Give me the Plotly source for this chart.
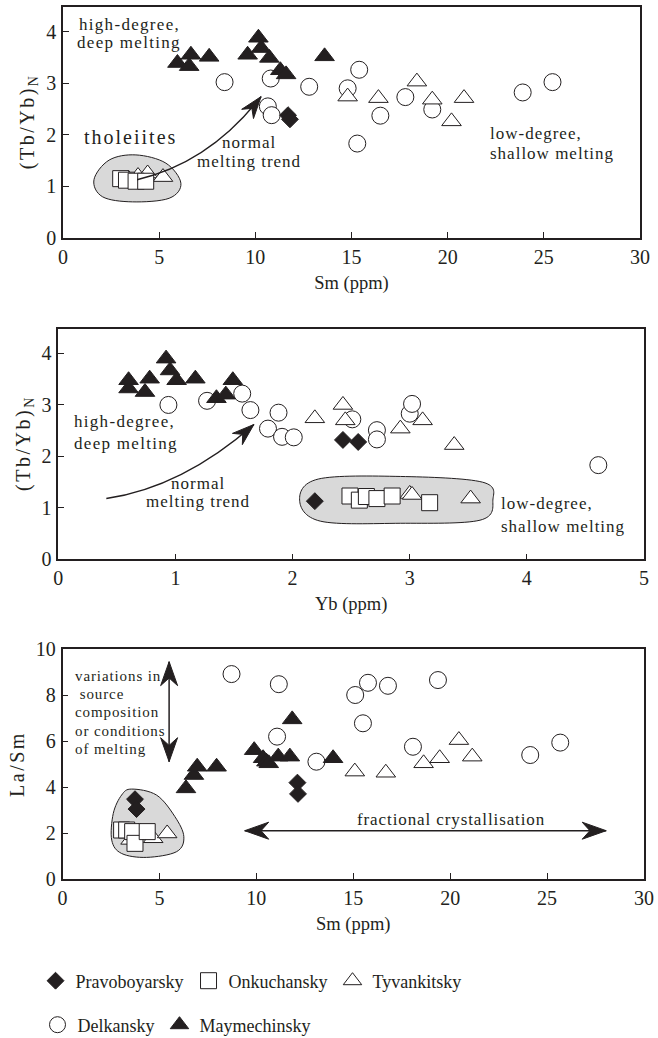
import math
import plotly.graph_objects as go

# ---------------- data ----------------
groups = ["Pravoboyarsky", "Onkuchansky", "Tyvankitsky", "Delkansky", "Maymechinsky"]

# Panel A: Sm (ppm) vs (Tb/Yb)N
a_prav_sm = [11.7, 11.8]
a_prav_tbyb = [2.38, 2.30]
a_onk_sm = [3.0, 3.3, 3.8, 4.3]
a_onk_tbyb = [1.15, 1.12, 1.10, 1.10]
a_tyv_sm = [3.4, 3.9, 4.4, 5.2, 14.8, 16.4, 18.4, 19.2, 20.2, 20.85]
a_tyv_tbyb = [1.15, 1.20, 1.25, 1.18, 2.74, 2.71, 3.03, 2.68, 2.26, 2.71]
a_del_sm = [8.4, 10.8, 10.65, 10.85, 12.8, 14.8, 15.4, 15.3, 16.5, 17.8, 19.2, 23.9, 25.45]
a_del_tbyb = [3.02, 3.09, 2.55, 2.38, 2.93, 2.90, 3.26, 1.83, 2.37, 2.73, 2.49, 2.82, 3.02]
a_may_sm = [5.95, 6.65, 6.56, 7.6, 9.6, 10.16, 10.3, 10.73, 11.3, 11.6, 13.6]
a_may_tbyb = [3.39, 3.55, 3.33, 3.51, 3.55, 3.88, 3.68, 3.49, 3.25, 3.17, 3.52]

# Panel B: Yb (ppm) vs (Tb/Yb)N
b_prav_yb = [2.43, 2.56, 2.19]
b_prav_tbyb = [2.32, 2.28, 1.13]
b_onk_yb = [2.49, 2.57, 2.63, 2.72, 2.85, 3.17]
b_onk_tbyb = [1.23, 1.15, 1.22, 1.18, 1.23, 1.10]
b_tyv_yb = [2.53, 2.77, 3.0, 3.02, 3.52, 2.19, 2.43, 2.45, 2.92, 3.11, 3.38]
b_tyv_tbyb = [1.22, 1.18, 1.27, 1.25, 1.18, 2.74, 3.0, 2.7, 2.54, 2.7, 2.22]
b_del_yb = [0.94, 1.27, 1.57, 1.64, 1.79, 1.88, 1.91, 2.01, 2.51, 2.72, 2.72, 3.0, 3.02, 4.61]
b_del_tbyb = [3.0, 3.08, 3.22, 2.9, 2.54, 2.85, 2.38, 2.37, 2.72, 2.51, 2.33, 2.83, 3.02, 1.83]
b_may_yb = [0.6, 0.6, 0.74, 0.78, 0.92, 0.954, 1.01, 1.17, 1.35, 1.43, 1.49]
b_may_tbyb = [3.32, 3.48, 3.25, 3.51, 3.90, 3.67, 3.48, 3.51, 3.13, 3.2, 3.48]

# Panel C: Sm (ppm) vs La/Sm
c_prav_sm = [3.74, 3.82, 12.12, 12.15]
c_prav_lasm = [3.47, 3.04, 4.19, 3.70]
c_onk_sm = [3.05, 3.31, 3.62, 3.74, 4.37]
c_onk_lasm = [2.13, 2.13, 2.06, 1.55, 2.06]
c_tyv_sm = [3.51, 3.91, 4.68, 5.4, 15.08, 16.68, 18.63, 19.46, 20.45, 21.14]
c_tyv_lasm = [1.70, 2.06, 1.77, 1.98, 4.67, 4.62, 5.03, 5.25, 6.04, 5.32]
c_del_sm = [8.72, 11.16, 11.07, 13.1, 15.1, 15.76, 16.79, 15.5, 19.37, 18.08, 24.13, 25.68]
c_del_lasm = [8.91, 8.47, 6.19, 5.1, 8.0, 8.53, 8.4, 6.77, 8.65, 5.75, 5.39, 5.93]
c_may_sm = [6.37, 6.78, 6.95, 7.95, 9.89, 10.35, 10.52, 10.64, 11.13, 11.73, 11.85, 13.96]
c_may_lasm = [3.94, 4.52, 4.88, 4.88, 5.6, 5.25, 5.1, 5.03, 5.32, 5.32, 6.94, 5.25]

x_ticks_sm = [0, 5, 10, 15, 20, 25, 30]
x_ticks_yb = [0, 1, 2, 3, 4, 5]
y_ticks_tbyb = [0, 1, 2, 3, 4]
y_ticks_lasm = [0, 2, 4, 6, 8, 10]

# ---------------- style ----------------
INK = "#231f20"
FONT = "Liberation Serif, DejaVu Serif, Times New Roman, serif"
W, H = 658, 1038

styles = {
    "Pravoboyarsky": dict(symbol="diamond", size=13, color=INK),
    "Onkuchansky": dict(symbol="square", size=16, color="white"),
    "Tyvankitsky": dict(symbol="triangle-up", size=17, color="white"),
    "Delkansky": dict(symbol="circle", size=17, color="white"),
    "Maymechinsky": dict(symbol="triangle-up", size=17, color=INK),
}

panels = [
    ("x", "y", {"Pravoboyarsky": (a_prav_sm, a_prav_tbyb), "Onkuchansky": (a_onk_sm, a_onk_tbyb),
                "Tyvankitsky": (a_tyv_sm, a_tyv_tbyb), "Delkansky": (a_del_sm, a_del_tbyb),
                "Maymechinsky": (a_may_sm, a_may_tbyb)}),
    ("x2", "y2", {"Pravoboyarsky": (b_prav_yb, b_prav_tbyb), "Onkuchansky": (b_onk_yb, b_onk_tbyb),
                  "Tyvankitsky": (b_tyv_yb, b_tyv_tbyb), "Delkansky": (b_del_yb, b_del_tbyb),
                  "Maymechinsky": (b_may_yb, b_may_tbyb)}),
    ("x3", "y3", {"Pravoboyarsky": (c_prav_sm, c_prav_lasm), "Onkuchansky": (c_onk_sm, c_onk_lasm),
                  "Tyvankitsky": (c_tyv_sm, c_tyv_lasm), "Delkansky": (c_del_sm, c_del_lasm),
                  "Maymechinsky": (c_may_sm, c_may_lasm)}),
]

fig = go.Figure()
draw_order = ["Delkansky", "Tyvankitsky", "Onkuchansky", "Maymechinsky", "Pravoboyarsky"]
for pi, (xa, ya, data) in enumerate(panels):
    for g in draw_order:
        xs, ys = data[g]
        st = styles[g]
        fig.add_trace(go.Scatter(
            x=xs, y=ys, mode="markers", xaxis=xa, yaxis=ya, name=g,
            legendgroup=g, showlegend=(pi == 0),
            legend="legend" if groups.index(g) < 3 else "legend2",
            legendrank=groups.index(g) + 1,
            marker=dict(symbol=st["symbol"], size=st["size"], color=st["color"],
                        line=dict(color=INK, width=1)),
        ))

# axis domains (paper fractions) and ranges
dom = {
    "x": ([63 / W, 640 / W], [0, 30]), "y": ([1 - 238 / H, 1 - 7.3 / H], [0, 4.47]),
    "x2": ([58.3 / W, 644 / W], [0, 5]), "y2": ([1 - 559.3 / H, 1 - 329.3 / H], [0, 4.47]),
    "x3": ([62.5 / W, 644 / W], [0, 30]), "y3": ([1 - 879 / H, 1 - 649 / H], [0, 10]),
}

def px_per_unit(name):
    d, r = dom[name]
    size = (d[1] - d[0]) * (W if name.startswith("x") else H)
    return size / (r[1] - r[0])

def spaced(text, ls):
    return f'<span style="letter-spacing:{ls}px">{text}</span>'

axis_common = dict(showline=True, mirror=True, linecolor=INK, linewidth=1.5,
                   ticks="inside", ticklen=6, tickwidth=1, tickcolor=INK,
                   showgrid=False, zeroline=False, automargin=False,
                   tickfont=dict(family=FONT, size=20, color=INK))

titles = {"x": ("Sm (ppm)", 18.5), "x2": ("Yb (ppm)", 18.5), "x3": ("Sm (ppm)", 18.5),
          "y": (spaced("(Tb/Yb)", 2.5) + "<sub>N</sub>", 20),
          "y2": (spaced("(Tb/Yb)", 2.5) + "<sub>N</sub>", 20),
          "y3": (spaced("La/Sm", 2.5), 20)}
tickvals = {"x": x_ticks_sm, "x2": x_ticks_yb, "x3": x_ticks_sm,
            "y": y_ticks_tbyb, "y2": y_ticks_tbyb, "y3": y_ticks_lasm}

layout_axes = {}
for name, (d, r) in dom.items():
    key = ("xaxis" if name.startswith("x") else "yaxis") + name[1:]
    ttext, tsize = titles[name]
    ax = dict(axis_common, domain=d, range=r, tickvals=tickvals[name],
              ticktext=[str(v) for v in tickvals[name]],
              title=dict(text=ttext, font=dict(family=FONT, size=tsize, color=INK),
                         standoff=9 if name.startswith("x") else 6))
    if name.startswith("x"):
        ax["anchor"] = "y" + name[1:]
    else:
        ax["anchor"] = "x" + name[1:]
        ax["ticklabelstandoff"] = 1
    layout_axes[key] = ax

fig.update_layout(**layout_axes)

# ---------------- decoration helpers ----------------
def smooth_closed(pts):
    n = len(pts)
    d = f"M{pts[0][0]:.3f},{pts[0][1]:.3f}"
    for i in range(n):
        p0, p1, p2, p3 = pts[(i - 1) % n], pts[i], pts[(i + 1) % n], pts[(i + 2) % n]
        c1 = (p1[0] + (p2[0] - p0[0]) / 6, p1[1] + (p2[1] - p0[1]) / 6)
        c2 = (p2[0] - (p3[0] - p1[0]) / 6, p2[1] - (p3[1] - p1[1]) / 6)
        d += f" C{c1[0]:.3f},{c1[1]:.3f} {c2[0]:.3f},{c2[1]:.3f} {p2[0]:.3f},{p2[1]:.3f}"
    return d + " Z"

def head_path(angle_deg, L=22, Wd=15, notch=0.32):
    a = math.radians(angle_deg)
    ca, sa = math.cos(a), math.sin(a)
    def rot(px, py):
        return (px * ca - py * sa, px * sa + py * ca)
    pts = [rot(0, 0), rot(-L, Wd / 2), rot(-L * (1 - notch), 0), rot(-L, -Wd / 2)]
    return "M" + " L".join(f"{p[0]:.2f},{p[1]:.2f}" for p in pts) + " Z"

shapes = []
blob_style = dict(type="path", fillcolor="#d9d9d9", line=dict(color=INK, width=1), layer="below")

# tholeiite fields
blob_a = [(1.61, 1.13), (2.40, 1.51), (3.79, 1.61), (5.35, 1.45), (6.13, 1.06),
          (5.52, 0.77), (3.61, 0.70), (2.05, 0.80)]
blob_b = [(2.06, 1.15), (2.22, 1.56), (2.92, 1.61), (3.62, 1.50), (3.71, 1.15),
          (3.60, 0.76), (2.92, 0.70), (2.24, 0.74)]
blob_c = [(3.57, 3.91), (4.85, 3.65), (5.80, 2.71), (6.26, 1.84), (5.89, 1.19),
          (4.34, 0.94), (3.05, 1.11), (2.54, 1.69), (2.62, 2.85), (3.05, 3.65)]
shapes.append(dict(blob_style, xref="x", yref="y", path=smooth_closed(blob_a)))
shapes.append(dict(blob_style, xref="x2", yref="y2", path=smooth_closed(blob_b)))
shapes.append(dict(blob_style, xref="x3", yref="y3", path=smooth_closed(blob_c)))

def curved_arrow(xa, ya, p0, q, p2):
    shapes.append(dict(type="path", xref=xa, yref=ya, line=dict(color=INK, width=1.5),
                       path=f"M{p0[0]},{p0[1]} Q{q[0]},{q[1]} {p2[0]},{p2[1]}"))
    dx = (p2[0] - q[0]) * px_per_unit(xa)
    dy = (p2[1] - q[1]) * px_per_unit(ya)
    ang = math.degrees(math.atan2(dy, dx))
    shapes.append(dict(type="path", xref=xa, yref=ya, xsizemode="pixel", ysizemode="pixel",
                       xanchor=p2[0], yanchor=p2[1], fillcolor=INK,
                       line=dict(color=INK, width=1), path=head_path(ang)))

curved_arrow("x", "y", (3.85, 1.13), (7.6, 1.45), (10.3, 2.74))
curved_arrow("x2", "y2", (0.41, 1.18), (1.06, 1.40), (1.67, 2.62))

def straight_double(xa, ya, p0, p1):
    shapes.append(dict(type="line", xref=xa, yref=ya, x0=p0[0], y0=p0[1], x1=p1[0], y1=p1[1],
                       line=dict(color=INK, width=1.5)))
    dx = (p1[0] - p0[0]) * px_per_unit(xa)
    dy = (p1[1] - p0[1]) * px_per_unit(ya)
    ang = math.degrees(math.atan2(dy, dx))
    for pt, a in ((p1, ang), (p0, ang + 180)):
        shapes.append(dict(type="path", xref=xa, yref=ya, xsizemode="pixel", ysizemode="pixel",
                           xanchor=pt[0], yanchor=pt[1], fillcolor=INK,
                           line=dict(color=INK, width=1), path=head_path(a, L=24, Wd=17)))

straight_double("x3", "y3", (5.5, 5.1), (5.5, 9.45))
straight_double("x3", "y3", (9.4, 2.1), (28.05, 2.1))

fig.update_layout(shapes=shapes)

# ---------------- text ----------------
annotations = []

def note(xa, ya, x, y, lines, size=17, spacing=19, ls=1.0, xanchor="center"):
    n = len(lines)
    for i, line in enumerate(lines):
        annotations.append(dict(
            xref=xa, yref=ya, x=x, y=y, yshift=((n - 1) / 2 - i) * spacing,
            text=spaced(line, ls), showarrow=False, xanchor=xanchor, yanchor="middle",
            font=dict(family=FONT, size=size, color=INK)))

note("x", "y", 3.44, 3.96, ["high-degree,", "deep melting"], spacing=18, ls=1.3)
note("x", "y", 3.49, 1.96, ["tholeiites"], size=20, ls=2.0)
note("x", "y", 9.69, 1.66, ["normal", "melting trend"], spacing=19)
note("x", "y", 22.08, 1.84, ["low-degree,", "shallow melting"], spacing=20, xanchor="left")
note("x2", "y2", 0.117, 2.46, ["high-degree,", "deep melting"], spacing=21.5, ls=1.3, xanchor="left")
note("x2", "y2", 1.19, 1.29, ["normal", "melting trend"], spacing=18)
note("x2", "y2", 3.76, 0.86, ["low-degree,", "shallow melting"], spacing=22.5, xanchor="left")
note("x3", "y3", 0.52, 7.24, ["variations in", " source", "composition", "or conditions", "of melting"],
     size=15, spacing=18.3, ls=0.9, xanchor="left")
note("x3", "y3", 20.03, 2.57, ["fractional crystallisation"], ls=0.9)

fig.update_layout(
    annotations=annotations,
    width=W, height=H,
    margin=dict(l=0, r=0, t=0, b=0, autoexpand=False),
    paper_bgcolor="white", plot_bgcolor="white",
    font=dict(family=FONT, color=INK),
    legend=dict(orientation="h", x=0.054, y=1 - 981 / H, xanchor="left", yanchor="middle",
                font=dict(family=FONT, size=18, color=INK),
                bgcolor="rgba(0,0,0,0)"),
    legend2=dict(orientation="h", x=0.057, y=1 - 1025 / H, xanchor="left", yanchor="middle",
                 font=dict(family=FONT, size=18, color=INK),
                 bgcolor="rgba(0,0,0,0)"),
)

fig.write_html("out.html", config={"displayModeBar": False},
               post_script="document.body.style.margin='0';document.body.style.padding='0';")
